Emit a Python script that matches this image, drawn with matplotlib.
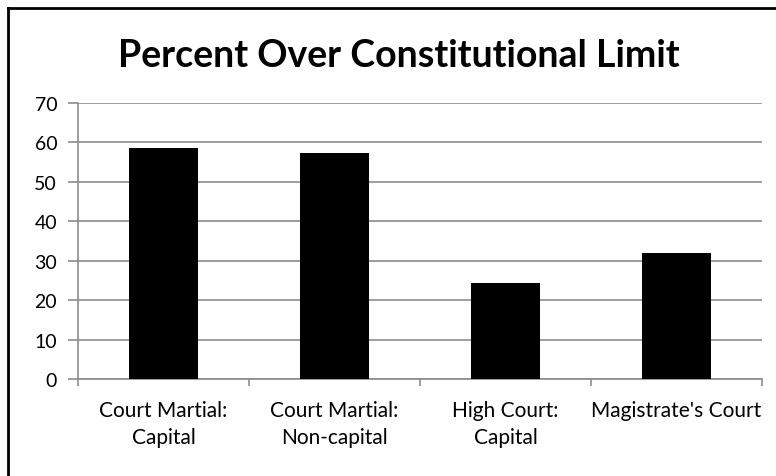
import matplotlib.pyplot as plt
from matplotlib.lines import Line2D

categories = ["Court Martial:\nCapital", "Court Martial:\nNon-capital",
              "High Court:\nCapital", "Magistrate's Court"]
values = [58.6, 57.4, 24.3, 32.0]
yticks = [0, 10, 20, 30, 40, 50, 60, 70]

plt.rcParams['font.family'] = ['Lato', 'DejaVu Sans']

fig = plt.figure(figsize=(7.76, 4.77), dpi=100)
ax = fig.add_axes([0.1005, 0.2034, 0.8815, 0.5786])

x = range(len(categories))
ax.bar(x, values, width=0.4, color="black", zorder=3)

ax.set_xlim(-0.5, len(categories) - 0.5)
ax.set_ylim(0, 70)
ax.set_yticks(yticks)
ax.set_yticklabels([str(t) for t in yticks], fontsize=14)
ax.yaxis.grid(True, color="#8c8c8c", linewidth=1.2, zorder=0)

# category labels centred, tick marks on the boundaries
ax.set_xticks(list(x))
ax.set_xticklabels(categories, fontsize=15, linespacing=1.45)
ax.tick_params(axis="x", length=0, pad=15)
ax.set_xticks([i - 0.5 for i in range(len(categories) + 1)], minor=True)
ax.tick_params(axis="x", which="minor", length=5, color="#8c8c8c", width=1.2)
ax.tick_params(axis="y", length=7, color="#8c8c8c", width=1.2, pad=8)

for s in ["top", "right"]:
    ax.spines[s].set_visible(False)
for s in ["left", "bottom"]:
    ax.spines[s].set_color("#8c8c8c")
    ax.spines[s].set_linewidth(1.2)

fig.text(0.514, 0.882, "Percent Over Constitutional Limit", ha="center", va="center",
         fontsize=27, fontweight="bold")

# outer frame (top and left edges)
fig.add_artist(Line2D([0.0105, 1.0], [0.982, 0.982], color="black", linewidth=2))
fig.add_artist(Line2D([0.0105, 0.0105], [0.0, 0.982], color="black", linewidth=2))

fig.savefig("out.png", dpi=100)
